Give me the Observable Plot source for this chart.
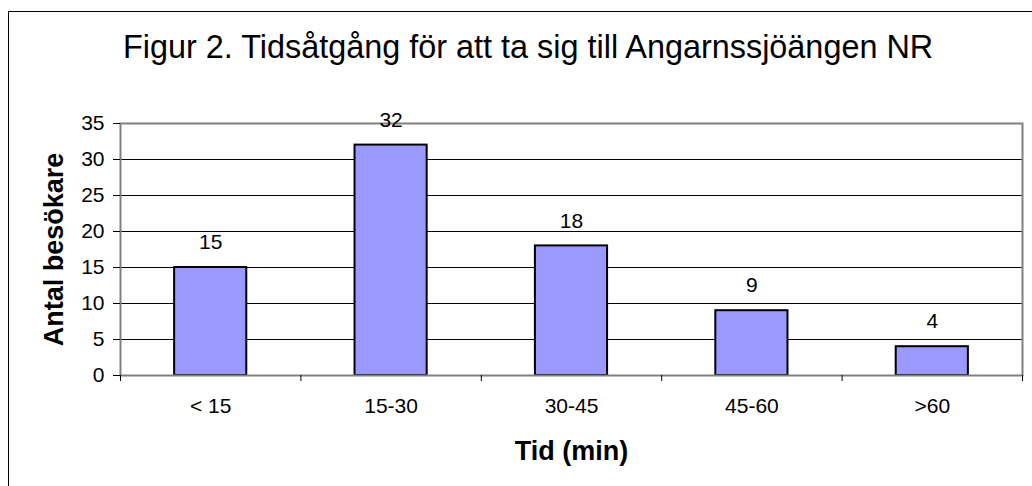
<!DOCTYPE html>
<html>
<head>
<meta charset="utf-8">
<script src="https://cdn.jsdelivr.net/npm/d3@7"></script>
<script src="https://cdn.jsdelivr.net/npm/@observablehq/plot@0.6"></script>
<style>
html, body { margin: 0; padding: 0; background: #fff; overflow: hidden; }
#wrap { position: relative; width: 1032px; height: 486px; overflow: hidden; font-family: "Liberation Sans", Arial, sans-serif; }
#border { position: absolute; left: 8px; top: 11px; width: 1100px; height: 600px; border: 1px solid #000; box-sizing: border-box; }
#title { position: absolute; left: 123px; top: 31px; font-size: 32.4px; line-height: 32px; white-space: nowrap; color: #000; }
#chart { position: absolute; left: 0; top: 0; }
</style>
</head>
<body>
<div id="wrap">
  <div id="border"></div>
  <div id="title">Figur 2. Tidsåtgång för att ta sig till Angarnssjöängen NR</div>
  <div id="chart"></div>
</div>
<script>
const categories = ["< 15", "15-30", "30-45", "45-60", ">60"];
const visitors = [15, 32, 18, 9, 4];
const yTicks = [0, 5, 10, 15, 20, 25, 30, 35];
const xTitle = "Tid (min)";
const yTitle = "Antal besökare";

const rows = categories.map((c, i) => ({cat: c, i, value: visitors[i]}));
const boundaries = d3.range(categories.length + 1);
const centers = categories.map((c, i) => i + 0.5);

const chart = Plot.plot({
  width: 1032,
  height: 486,
  marginLeft: 120,
  marginRight: 10,
  marginTop: 123,
  marginBottom: 111,
  style: {fontFamily: "'Liberation Sans', Arial, sans-serif", fontSize: "21px", color: "#000", background: "transparent", overflow: "visible"},
  x: {type: "linear", domain: [0, categories.length]},
  y: {domain: [0, 35]},
  marks: [
    Plot.gridY(yTicks.filter(t => t > 0 && t < 35), {stroke: "#000", strokeOpacity: 1, strokeWidth: 1}),
    Plot.rectY(rows, {x1: d => d.i + 0.3, x2: d => d.i + 0.7, y1: 0, y2: "value", fill: "#9999FF", stroke: "#000", strokeWidth: 2}),
    Plot.frame({stroke: "#808080", strokeWidth: 2}),
    Plot.axisY(yTicks, {tickSize: 7, tickPadding: 9, label: yTitle, labelAnchor: "center", labelArrow: "none", labelOffset: 77}),
    Plot.axisX(boundaries, {tickSize: 6, tickFormat: () => "", label: null}),
    Plot.axisX(centers, {tickSize: 0, tickPadding: 23, tickFormat: d => categories[Math.floor(d)], label: xTitle, labelAnchor: "center", labelArrow: "none", labelOffset: 84}),
    Plot.text(rows, {x: d => d.i + 0.5, y: "value", text: d => String(d.value), dy: -25, fontSize: 21})
  ]
});
chart.querySelectorAll('g[aria-label$="axis label"]').forEach(g => {
  g.setAttribute("font-size", "27px");
  g.setAttribute("font-weight", "bold");
});
document.getElementById("chart").appendChild(chart);
</script>
</body>
</html>
